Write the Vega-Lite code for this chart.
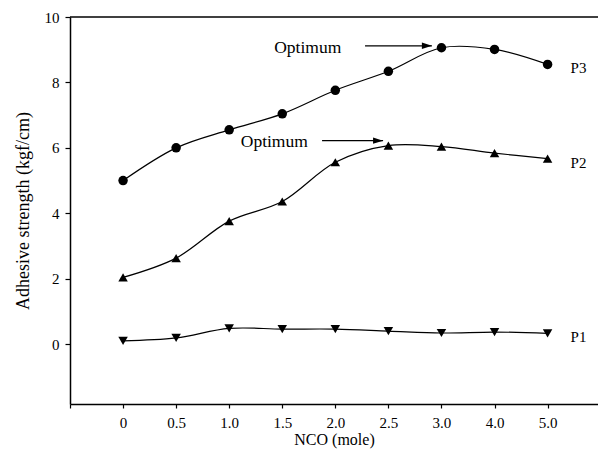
{
  "$schema": "https://vega.github.io/schema/vega-lite/v6.json",
  "width": 528,
  "height": 387,
  "autosize": {"type": "none"},
  "padding": {"left": 70, "top": 17, "right": 0, "bottom": 46},
  "background": "white",
  "config": {
    "view": {"stroke": null},
    "font": "Liberation Serif",
    "axis": {
      "labelFont": "Liberation Serif",
      "titleFont": "Liberation Serif",
      "labelColor": "black",
      "titleColor": "black",
      "domainColor": "black",
      "tickColor": "black",
      "grid": false,
      "labelFontSize": 15,
      "titleFontSize": 17,
      "titleFontWeight": "normal",
      "domainWidth": 1.5,
      "tickWidth": 1.2
    }
  },
  "datasets": {
    "main": [
      {"series": "P3", "idx": 0, "nco": "0", "value": 5.0},
      {"series": "P3", "idx": 1, "nco": "0.5", "value": 6.0},
      {"series": "P3", "idx": 2, "nco": "1.0", "value": 6.55},
      {"series": "P3", "idx": 3, "nco": "1.5", "value": 7.04},
      {"series": "P3", "idx": 4, "nco": "2.0", "value": 7.76},
      {"series": "P3", "idx": 5, "nco": "2.5", "value": 8.34},
      {"series": "P3", "idx": 6, "nco": "3.0", "value": 9.06},
      {"series": "P3", "idx": 7, "nco": "4.0", "value": 9.01},
      {"series": "P3", "idx": 8, "nco": "5.0", "value": 8.55},
      {"series": "P2", "idx": 0, "nco": "0", "value": 2.04},
      {"series": "P2", "idx": 1, "nco": "0.5", "value": 2.63},
      {"series": "P2", "idx": 2, "nco": "1.0", "value": 3.76},
      {"series": "P2", "idx": 3, "nco": "1.5", "value": 4.36},
      {"series": "P2", "idx": 4, "nco": "2.0", "value": 5.56},
      {"series": "P2", "idx": 5, "nco": "2.5", "value": 6.07},
      {"series": "P2", "idx": 6, "nco": "3.0", "value": 6.04},
      {"series": "P2", "idx": 7, "nco": "4.0", "value": 5.84},
      {"series": "P2", "idx": 8, "nco": "5.0", "value": 5.67},
      {"series": "P1", "idx": 0, "nco": "0", "value": 0.1},
      {"series": "P1", "idx": 1, "nco": "0.5", "value": 0.19},
      {"series": "P1", "idx": 2, "nco": "1.0", "value": 0.48},
      {"series": "P1", "idx": 3, "nco": "1.5", "value": 0.46},
      {"series": "P1", "idx": 4, "nco": "2.0", "value": 0.46},
      {"series": "P1", "idx": 5, "nco": "2.5", "value": 0.4},
      {"series": "P1", "idx": 6, "nco": "3.0", "value": 0.34},
      {"series": "P1", "idx": 7, "nco": "4.0", "value": 0.37},
      {"series": "P1", "idx": 8, "nco": "5.0", "value": 0.33}
    ],
    "notes": [
      {"text": "Optimum", "tx": 3.48, "ax1": 4.56, "ax2": 5.82, "ty": 9.06, "ay": 9.12},
      {"text": "Optimum", "tx": 2.85, "ax1": 3.75, "ax2": 4.9, "ty": 6.19, "ay": 6.22}
    ]
  },
  "layer": [
    {
      "data": {"name": "main"},
      "mark": {"type": "line", "interpolate": "catmull-rom", "color": "black", "strokeWidth": 1.2},
      "encoding": {
        "x": {
          "field": "idx",
          "type": "quantitative",
          "scale": {"domain": [-1, 8.95], "nice": false, "zero": false},
          "axis": {
            "title": "NCO (mole)",
            "titleFontSize": 16,
            "values": [-1, 0, 1, 2, 3, 4, 5, 6, 7, 8],
            "labelExpr": "datum.value < 0 ? '' : ['0','0.5','1.0','1.5','2.0','2.5','3.0','4.0','5.0'][datum.value]",
            "tickSize": 4,
            "labelPadding": 7,
            "titlePadding": 1
          }
        },
        "y": {
          "field": "value",
          "type": "quantitative",
          "scale": {"domain": [-1.83, 10], "nice": false, "zero": false},
          "axis": {
            "title": "Adhesive strength (kgf/cm)",
            "titleFontSize": 18,
            "values": [0, 2, 4, 6, 8, 10],
            "tickSize": 5,
            "labelPadding": 6,
            "titlePadding": 12
          }
        },
        "detail": {"field": "series"}
      }
    },
    {
      "data": {"name": "main"},
      "mark": {"type": "point", "filled": true, "color": "black", "opacity": 1, "size": 90},
      "encoding": {
        "x": {"field": "idx", "type": "quantitative"},
        "y": {"field": "value", "type": "quantitative"},
        "shape": {
          "field": "series",
          "type": "nominal",
          "scale": {"domain": ["P1", "P2", "P3"], "range": ["triangle-down", "triangle-up", "circle"]},
          "legend": null
        }
      }
    },
    {
      "data": {"name": "main"},
      "transform": [{"filter": "datum.idx == 8"}],
      "mark": {"type": "text", "align": "left", "baseline": "middle", "dx": 23, "dy": 4, "fontSize": 15, "color": "black", "font": "Liberation Serif"},
      "encoding": {
        "x": {"field": "idx", "type": "quantitative"},
        "y": {"field": "value", "type": "quantitative"},
        "text": {"field": "series"}
      }
    },
    {
      "data": {"name": "notes"},
      "mark": {"type": "text", "align": "center", "baseline": "middle", "fontSize": 17.5, "color": "black", "font": "Liberation Serif"},
      "encoding": {
        "x": {"field": "tx", "type": "quantitative"},
        "y": {"field": "ty", "type": "quantitative"},
        "text": {"field": "text"}
      }
    },
    {
      "data": {"name": "notes"},
      "mark": {"type": "rule", "color": "black", "strokeWidth": 1.2},
      "encoding": {
        "x": {"field": "ax1", "type": "quantitative"},
        "x2": {"field": "ax2"},
        "y": {"field": "ay", "type": "quantitative"}
      }
    },
    {
      "data": {"name": "notes"},
      "mark": {"type": "point", "shape": "M0,0L-1,-0.32L-1,0.32Z", "filled": true, "color": "black", "opacity": 1, "size": 400},
      "encoding": {
        "x": {"field": "ax2", "type": "quantitative"},
        "y": {"field": "ay", "type": "quantitative"}
      }
    },
    {
      "data": {"values": [{"top": 10}]},
      "mark": {"type": "rule", "color": "black", "strokeWidth": 1.5},
      "encoding": {
        "y": {"field": "top", "type": "quantitative"}
      }
    }
  ]
}
